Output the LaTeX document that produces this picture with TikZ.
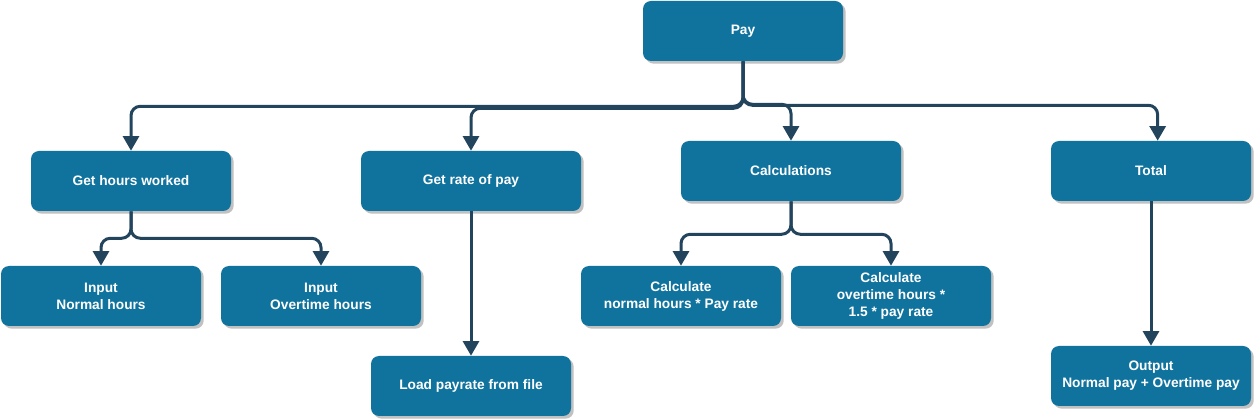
\documentclass[tikz,border=0pt]{standalone}
\usepackage{fontspec}
\setmainfont{Liberation Sans}
\usetikzlibrary{arrows.meta,shadows}

\definecolor{boxblue}{HTML}{10739E}
\definecolor{linkblue}{HTML}{23445D}

\tikzset{
  task/.style={rectangle, rounded corners=6pt, fill=boxblue, text=white,
    font=\bfseries\fontsize{10.3}{12.8}\selectfont, align=center,
    minimum width=150pt, minimum height=45pt, inner sep=0pt,
    drop shadow={shadow xshift=2pt, shadow yshift=-2pt, fill=black!35, opacity=0.7}},
  widetask/.style={task, minimum width=165pt},
  link/.style={draw=linkblue, line width=2.25pt, rounded corners=7pt,
    -{Triangle[width=12pt,length=11pt]}}
}

\begin{document}
\begin{tikzpicture}[x=0.75pt,y=-0.75pt]
  \useasboundingbox (0,0) rectangle (1254,420);
  % top level
  \node[task] (pay) at (743,31) {Pay};
  \node[task] (hours) at (131,181) {Get hours worked};
  \node[widetask] (rate) at (471,181) {Get rate of pay};
  \node[widetask] (calc) at (791,171) {Calculations};
  \node[task] (total) at (1151,171) {Total};
  % lower level
  \node[task] (innormal) at (101,296) {Input\\Normal hours};
  \node[task] (inover) at (321,296) {Input\\Overtime hours};
  \node[task] (load) at (471,386) {Load payrate from file};
  \node[task] (calcnormal) at (681,296) {Calculate\\normal hours * Pay rate};
  \node[task] (calcover) at (891,296) {Calculate\\overtime hours *\\1.5 * pay rate};
  \node[task] (output) at (1151,376) {Output\\Normal pay + Overtime pay};

  \draw[link] (pay.south) -- ++(0,45) -| (hours.north);
  \draw[link] (pay.south) -- ++(0,47) -| (rate.north);
  \draw[link] (pay.south) -- ++(0,43) -| (calc.north);
  \draw[link] (pay.south) -- ++(0,44) -| ([xshift=5pt]total.north);
  \draw[link] (hours.south) -- ++(0,27) -| (innormal.north);
  \draw[link] (hours.south) -- ++(0,27) -| (inover.north);
  \draw[link] (rate.south) -- (load.north);
  \draw[link] (calc.south) -- ++(0,33) -| (calcnormal.north);
  \draw[link] (calc.south) -- ++(0,33) -| (calcover.north);
  \draw[link] (total.south) -- (output.north);
\end{tikzpicture}
\end{document}
